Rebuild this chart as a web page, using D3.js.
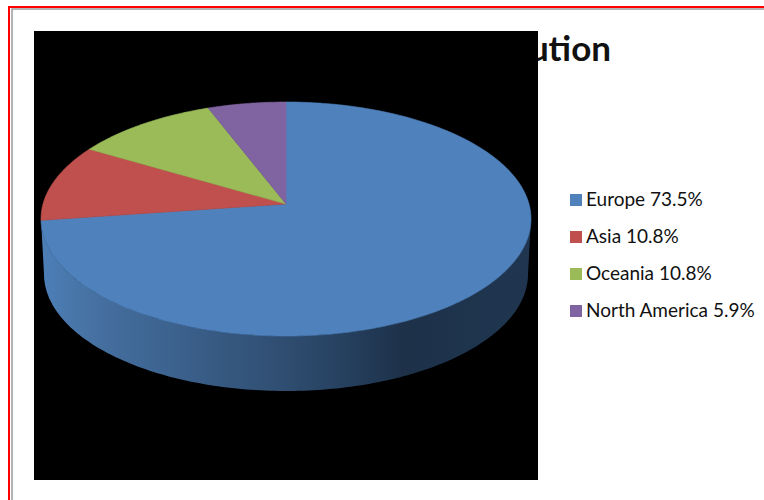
<!DOCTYPE html>
<html>
<head>
<meta charset="utf-8">
<script src="https://cdn.jsdelivr.net/npm/d3@7/dist/d3.min.js"></script>
<style>
  html, body { margin: 0; padding: 0; background: #fff; }
  svg { display: block; }
  text { font-family: Lato, "Open Sans", sans-serif; fill: #111; }
</style>
</head>
<body>
<svg id="chart" width="764" height="500"></svg>
<script>
// Regional shares, clockwise from twelve o'clock
const regions = ["Europe", "Asia", "Oceania", "North America"];
const shares = [73.5, 10.8, 10.8, 5.9];
const sliceColors = ["#4F81BD", "#C0504D", "#9BBB59", "#8064A2"];
const titleTail = "ution";

const svg = d3.select("#chart");

// Page border: red outer rule with a grey rule inside it
const frame = svg.append("g").attr("fill", "none");
frame.append("path").attr("d", "M764,7H9V500").attr("stroke", "#ff0000").attr("stroke-width", 2);
frame.append("path").attr("d", "M764,9H12V500").attr("stroke", "#9a9a9a").attr("stroke-width", 1.5);

// Title runs underneath the black plot panel
svg.append("text")
  .attr("x", 611).attr("y", 61)
  .attr("text-anchor", "end")
  .attr("font-size", 35).attr("font-weight", 700)
  .text(titleTail);

// Plot panel
svg.append("rect")
  .attr("x", 34).attr("y", 31).attr("width", 504).attr("height", 449)
  .attr("fill", "#000");

// Disc coordinates (-1..1) to pixels for the top face and for the base
const topX = d3.scaleLinear().domain([-1, 1]).range([41, 531]);
const topY = d3.scaleLinear().domain([-1, 1]).range([336, 102]);
const baseX = d3.scaleLinear().domain([-1, 1]).range([44, 528]);
const baseY = d3.scaleLinear().domain([-1, 1]).range([391, 157]);

// Perspective tilt: moves the disc centre back along the view axis
const tilt = 0.128;
const project = angle => {
  const u = Math.sin(angle), v = Math.cos(angle), w = 1 + tilt * v;
  return [u * Math.sqrt(1 - tilt * tilt) / w, (v + tilt) / w];
};

const slices = d3.pie().sort(null).value(d => d)(shares);
const outline = d3.line();
const rimStep = Math.PI / 180;

const rimPoints = (a0, a1, sx, sy) =>
  d3.range(a0, a1, rimStep).concat(a1).map(a => {
    const [x, y] = project(a);
    return [sx(x), sy(y)];
  });

// Side wall: horizontal shading along the front of the disc
const wallShade = svg.append("defs").append("linearGradient")
  .attr("id", "wall")
  .attr("gradientUnits", "userSpaceOnUse")
  .attr("x1", topX(-1)).attr("x2", topX(1)).attr("y1", 0).attr("y2", 0);
[[0, "#4d7fb8"], [0.12, "#456f9f"], [0.3, "#3a5f8a"], [0.5, "#2f4d70"],
 [0.62, "#26405f"], [0.74, "#1d3149"], [1, "#203650"]]
  .forEach(([o, c]) => wallShade.append("stop").attr("offset", o).attr("stop-color", c));

// The front half of the rim runs between the two points where v = -tilt
const frontStart = Math.PI / 2 + Math.asin(tilt);
const frontEnd = 2 * Math.PI - frontStart;
svg.append("path")
  .attr("fill", "url(#wall)")
  .attr("d", outline(
    rimPoints(frontStart, frontEnd, topX, topY)
      .concat(rimPoints(frontStart, frontEnd, baseX, baseY).reverse())
  ) + "Z");

// Top face, one wedge per region
const apex = [topX(0), topY(tilt)];
svg.append("g").selectAll("path")
  .data(slices)
  .join("path")
  .attr("fill", (d, i) => sliceColors[i])
  .attr("stroke", (d, i) => sliceColors[i])
  .attr("stroke-width", 0.6)
  .attr("stroke-linejoin", "round")
  .attr("d", d => outline([apex, ...rimPoints(d.startAngle, d.endAngle, topX, topY)]) + "Z");

// Legend
const legendRow = d3.scalePoint().domain(regions).range([200, 311]);
const legend = svg.append("g").selectAll("g")
  .data(regions)
  .join("g")
  .attr("transform", d => `translate(570,${legendRow(d)})`);
legend.append("rect")
  .attr("x", 0).attr("y", -6).attr("width", 12).attr("height", 12)
  .attr("fill", (d, i) => sliceColors[i]);
legend.append("text")
  .attr("x", 16).attr("y", 6.3)
  .attr("font-size", 19)
  .text((d, i) => `${d} ${shares[i]}%`);
</script>
</body>
</html>
